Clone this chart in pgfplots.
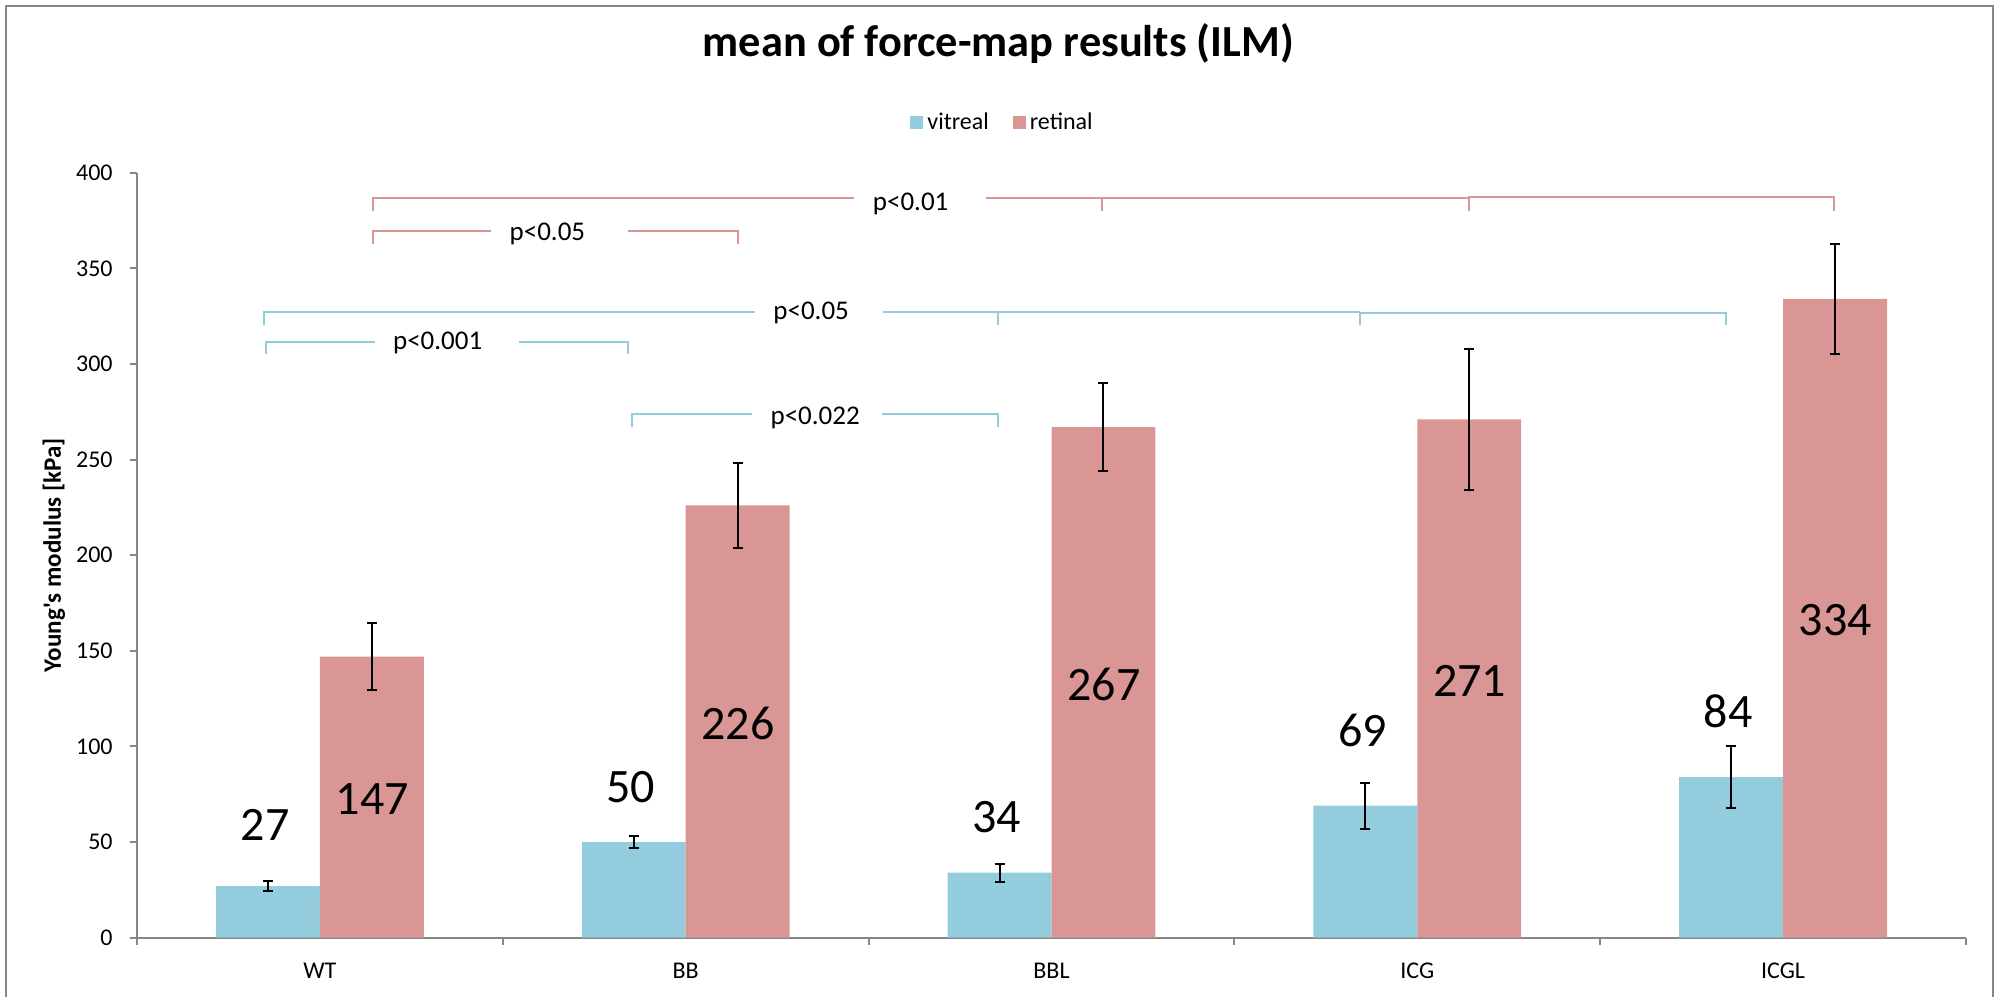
\documentclass[border=0pt]{standalone}
\usepackage{fontspec}
\setmainfont{Carlito}
\usepackage{pgfplots}
\pgfplotsset{compat=1.18}
\usepackage{pgfplotstable}
\definecolor{vit}{HTML}{93CDDD}
\definecolor{ret}{HTML}{D99694}
\definecolor{axgray}{HTML}{868686}

\pgfplotstableread{
x y e
0 27 2.7
1 50 3.2
2 34 4.7
3 69 12
4 84 16
}\vitreal
\pgfplotstableread{
x y e
0 147 17.6
1 226 22
2 267 23
3 271 37
4 334 28.6
}\retinal

\tikzset{
  pfont/.style={font=\fontsize{13.5}{16}\selectfont, anchor=base, inner sep=0pt},
  vfont/.style={font=\fontsize{24}{28}\selectfont, anchor=center, inner sep=0pt},
  rb/.style={ret, line width=1pt},
  bb/.style={vit, line width=1pt},
}

\begin{document}
\begin{tikzpicture}
\useasboundingbox (-68.5pt,-29.15pt) rectangle (929pt,468.85pt);
\draw[axgray, line width=1pt] (-65.5pt,-40pt) -- (-65.5pt,465.85pt) -- (928pt,465.85pt) -- (928pt,-40pt);
\begin{axis}[
  at={(0pt,0pt)}, anchor=south west,
  scale only axis, width=914.5pt, height=382.5pt,
  xmin=-0.5, xmax=4.5, ymin=0, ymax=400,
  clip=false,
  axis x line*=bottom, axis y line*=left,
  axis line style={axgray, line width=1pt, -},
  ybar=0pt, bar width=0.284,
  ytick={0,50,...,400},
  xtick={-0.5,0.5,1.5,2.5,3.5,4.5}, xticklabels={},
  extra x ticks={0,1,2,3,4},
  extra x tick labels={WT,BB,BBL,ICG,ICGL},
  extra x tick style={major tick length=0pt,
    xticklabel style={anchor=center, inner sep=0pt, yshift=-16.5pt, font=\fontsize{12}{14}\selectfont}},
  tick align=outside, major tick length=3.5pt,
  tick style={axgray, line width=1pt},
  /pgf/number format/assume math mode=true,
  yticklabel style={anchor=east, inner sep=0pt, xshift=-8.5pt, font=\fontsize{12}{14}\selectfont},
  ylabel={Young\textquotesingle s modulus [kPa]},
  ylabel style={at={(axis description cs:-0.0454,0.5)}, anchor=center, inner sep=0pt, font=\bfseries\fontsize{12.5}{15}\selectfont},
  title={mean of force-map results (ILM)},
  title style={at={(axis description cs:0.4710,1.1365)}, anchor=base, inner sep=0pt, font=\bfseries\fontsize{22.2}{26}\selectfont},
  legend style={at={(0.4738,1.0658)}, anchor=center, draw=none, legend columns=2,
    font=\fontsize{12}{14}\selectfont,
    /tikz/every even column/.append style={column sep=10pt}},
  legend image code/.code={\fill[#1] (0pt,-3.25pt) rectangle (6.5pt,3.25pt);},
]
\addplot[fill=vit, draw=none,
  error bars/.cd, y dir=both, y explicit,
  error bar style={black, line width=1pt},
  error mark options={rotate=90, black, mark size=2.5pt, line width=1pt}]
  table[x=x, y=y, y error=e] {\vitreal};
\addplot[fill=ret, draw=none,
  error bars/.cd, y dir=both, y explicit,
  error bar style={black, line width=1pt},
  error mark options={rotate=90, black, mark size=2.5pt, line width=1pt}]
  table[x=x, y=y, y error=e] {\retinal};
\legend{vitreal, retinal}

% value labels
\node[vfont] at (axis cs:-0.15,58.9) {27};
\node[vfont] at (axis cs:0.143,72.5) {147};
\node[vfont] at (axis cs:0.85,79) {50};
\node[vfont] at (axis cs:1.143,112) {226};
\node[vfont] at (axis cs:1.85,63.3) {34};
\node[vfont] at (axis cs:2.143,132.6) {267};
\node[vfont] at (axis cs:2.85,108.3) {69};
\node[vfont] at (axis cs:3.143,134.4) {271};
\node[vfont] at (axis cs:3.85,118.5) {84};
\node[vfont] at (axis cs:4.143,166) {334};

% retinal brackets
\draw[rb] (axis cs:0.145,380.1) -- (axis cs:0.145,386.6) -- (axis cs:1.461,386.6);
\draw[rb] (axis cs:1.820,386.6) -- (axis cs:3.140,386.6);
\draw[rb] (axis cs:2.138,386.6) -- (axis cs:2.138,380.1);
\draw[rb] (axis cs:3.140,380.1) -- (axis cs:3.140,387.2) -- (axis cs:4.139,387.2) -- (axis cs:4.139,380.1);
\node[pfont] at (axis cs:1.615,380.1) {p<0.01};
\draw[rb] (axis cs:0.145,362.7) -- (axis cs:0.145,369.5) -- (axis cs:0.469,369.5);
\draw[rb] (axis cs:0.843,369.5) -- (axis cs:1.144,369.5) -- (axis cs:1.144,362.7);
\node[pfont] at (axis cs:0.622,364.3) {p<0.05};

% vitreal brackets
\draw[bb] (axis cs:-0.152,320.2) -- (axis cs:-0.152,327.0) -- (axis cs:1.190,327.0);
\draw[bb] (axis cs:1.540,327.0) -- (axis cs:2.842,327.0);
\draw[bb] (axis cs:1.855,327.0) -- (axis cs:1.855,320.2);
\draw[bb] (axis cs:2.842,320.2) -- (axis cs:2.842,326.5) -- (axis cs:3.843,326.5) -- (axis cs:3.843,320.2);
\node[pfont] at (axis cs:1.343,323.5) {p<0.05};
\draw[bb] (axis cs:-0.148,305.2) -- (axis cs:-0.148,311.6) -- (axis cs:0.150,311.6);
\draw[bb] (axis cs:0.543,311.6) -- (axis cs:0.843,311.6) -- (axis cs:0.843,305.2);
\node[pfont] at (axis cs:0.322,307.3) {p<0.001};
\draw[bb] (axis cs:0.853,267.2) -- (axis cs:0.853,273.8) -- (axis cs:1.181,273.8);
\draw[bb] (axis cs:1.536,273.8) -- (axis cs:1.855,273.8) -- (axis cs:1.855,267.2);
\node[pfont] at (axis cs:1.354,268.1) {p<0.022};
\end{axis}
\end{tikzpicture}
\end{document}
